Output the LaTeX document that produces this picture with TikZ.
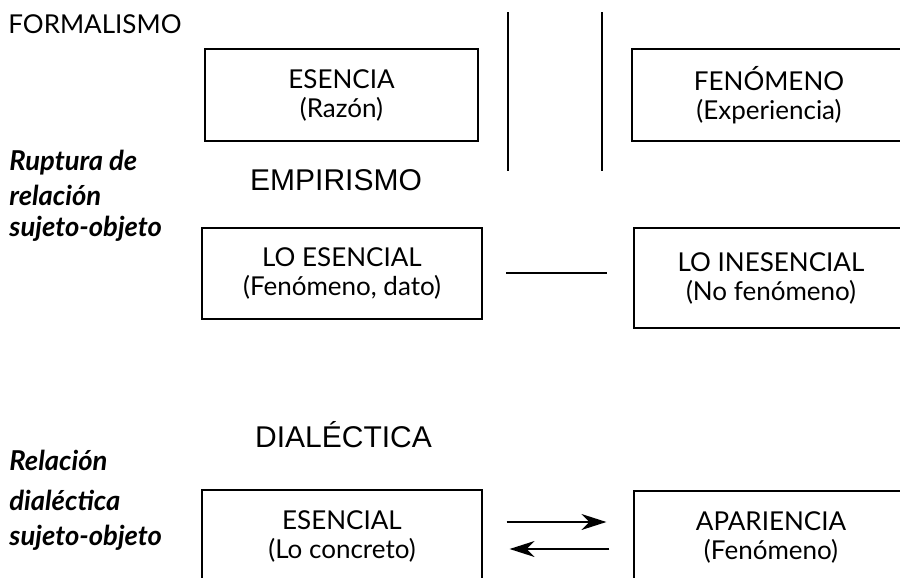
\documentclass[tikz,border=0pt]{standalone}
\usepackage{fontspec}
\setmainfont{Lato}
\newfontfamily\headfont{Liberation Sans}
\usetikzlibrary{arrows.meta}
\begin{document}
\begin{tikzpicture}[x=0.5pt,y=-0.5pt,
        caja/.style={draw,line width=0.6pt,inner sep=0pt,align=center,
            font=\fontsize{13}{14.5}\selectfont},
        etiqueta/.style={anchor=base west,inner sep=0pt,font=\fontsize{13}{13}\selectfont},
        titulo/.style={anchor=base,inner sep=0pt,font=\headfont\fontsize{15}{15}\selectfont},
        lateral/.style={anchor=base west,inner sep=0pt,
            font=\bfseries\itshape\fontsize{13.7}{13.7}\selectfont},
        flecha/.style={-{Stealth[length=12.5pt,width=8pt,inset=4pt]},line width=0.7pt}]
    \clip (0,0) rectangle (900,578);
    \node[etiqueta] (formalismo) at (8,33) {FORMALISMO};
    \node[caja,minimum width=136.5pt,minimum height=46pt] (esencia) at (341.5,95) {ESENCIA\\(Razón)};
    \node[caja,minimum width=137pt,minimum height=46pt] (fenomeno) at (769,95) {FENÓMENO\\(Experiencia)};
    \draw[line width=0.6pt] (508,12) -- (508,171);
    \draw[line width=0.6pt] (602,12) -- (602,171);
    \node[lateral] (ruptura) at (9,170) {Ruptura de};
    \node[lateral] (relacion) at (9,205) {relación};
    \node[lateral] (sujeto) at (9,236) {sujeto-objeto};
    \node[titulo] (empirismo) at (336,190) {EMPIRISMO};
    \node[caja,minimum width=140pt,minimum height=45.5pt] (loesencial) at (342,273.5) {LO ESENCIAL\\(Fenómeno, dato)};
    \node[caja,minimum width=137pt,minimum height=50pt] (loinesencial) at (771,278) {LO INESENCIAL\\(No fenómeno)};
    \coordinate (rayaA) at (506,273);
    \coordinate (rayaB) at (607,273);
    \draw[line width=0.6pt] (rayaA) -- (rayaB);
    \node[titulo] (dialectica) at (343.5,447) {DIALÉCTICA};
    \node[lateral] (relacion2) at (9,470) {Relación};
    \node[lateral] (dialectica2) at (9,510) {dialéctica};
    \node[lateral] (sujeto2) at (9,545) {sujeto-objeto};
    \node[caja,minimum width=140pt,minimum height=46pt] (esencial) at (342,536) {ESENCIAL\\(Lo concreto)};
    \node[caja,minimum width=137pt,minimum height=46pt] (apariencia) at (771,537) {APARIENCIA\\(Fenómeno)};
    \draw[flecha] ([xshift=12pt,yshift=7pt]esencial.east) -- ([xshift=-13.5pt,yshift=7.5pt]apariencia.west);
    \draw[flecha] ([xshift=-12pt,yshift=-6pt]apariencia.west) -- ([xshift=13.5pt,yshift=-6.5pt]esencial.east);
\end{tikzpicture}
\end{document}
